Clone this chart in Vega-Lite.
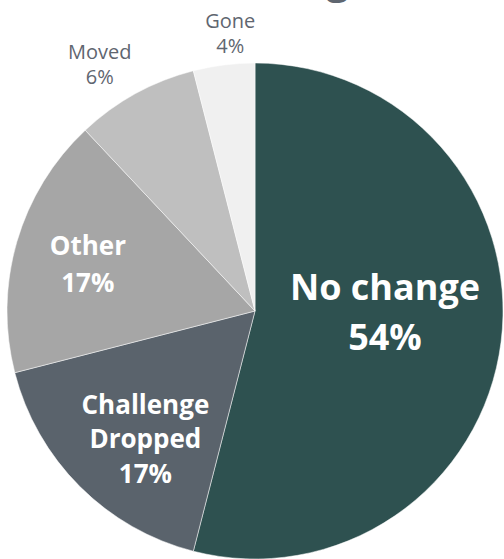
{
  "$schema": "https://vega.github.io/schema/vega-lite/v6.json",
  "width": 496,
  "height": 496,
  "autosize": "none",
  "padding": {"left": 7, "top": 63, "right": 1, "bottom": 0},
  "background": "white",
  "title": {"text": "Tracking", "font": "Open Sans", "fontSize": 40, "fontWeight": "bold", "color": "#5f6670", "anchor": "middle", "baseline": "alphabetic", "offset": 8, "dx": 8, "dy": 32},
  "data": {"values": [
    {"idx": 1, "category": "No change", "value": 54, "label": "No change\n54%"},
    {"idx": 2, "category": "Challenge Dropped", "value": 17, "label": "Challenge\nDropped\n17%"},
    {"idx": 3, "category": "Other", "value": 17, "label": "Other\n17%"},
    {"idx": 4, "category": "Moved", "value": 8, "label": "Moved\n6%"},
    {"idx": 5, "category": "Gone", "value": 4, "label": "Gone\n4%"}
  ]},
  "encoding": {
    "theta": {"field": "value", "type": "quantitative", "stack": true},
    "order": {"field": "idx", "type": "quantitative"},
    "detail": {"field": "category", "type": "nominal"}
  },
  "layer": [
    {
      "mark": {"type": "arc", "stroke": "#ffffff", "strokeWidth": 0.5},
      "encoding": {
        "color": {"field": "category", "type": "nominal", "legend": null,
          "scale": {"domain": ["No change", "Challenge Dropped", "Other", "Moved", "Gone"],
                    "range": ["#2e5150", "#5a636c", "#a6a6a6", "#bfbfbf", "#f0f0f0"]}}
      }
    },
    {
      "mark": {"type": "text", "font": "Open Sans", "fontWeight": "bold", "fontSize": 36, "fill": "#ffffff", "lineHeight": 50, "lineBreak": "\n", "radius": 130, "baseline": "middle", "align": "center", "dx": 1, "dy": -38},
      "encoding": {
        "text": {"condition": {"test": "datum.category === 'No change'", "field": "label", "type": "nominal"}, "value": ""}
      }
    },
    {
      "mark": {"type": "text", "font": "Open Sans", "fontWeight": "bold", "fontSize": 26, "fill": "#ffffff", "lineHeight": 36.5, "lineBreak": "\n", "radius": 172, "baseline": "middle", "align": "center", "dx": -2, "dy": -16},
      "encoding": {
        "text": {"condition": {"test": "datum.category === 'Other'", "field": "label", "type": "nominal"}, "value": ""}
      }
    },
    {
      "mark": {"type": "text", "font": "Open Sans", "fontWeight": "bold", "fontSize": 26, "fill": "#ffffff", "lineHeight": 34.5, "lineBreak": "\n", "radius": 172, "baseline": "middle", "align": "center", "dx": 12, "dy": -27},
      "encoding": {
        "text": {"condition": {"test": "datum.category === 'Challenge Dropped'", "field": "label", "type": "nominal"}, "value": ""}
      }
    },
    {
      "mark": {"type": "text", "font": "Open Sans", "fontSize": 20, "fill": "#5f6670", "lineHeight": 25, "lineBreak": "\n", "radius": 285, "baseline": "middle", "align": "center", "dx": -18, "dy": -8},
      "encoding": {
        "text": {"condition": {"test": "datum.category === 'Moved'", "field": "label", "type": "nominal"}, "value": ""}
      }
    },
    {
      "mark": {"type": "text", "font": "Open Sans", "fontSize": 20, "fill": "#5f6670", "lineHeight": 25, "lineBreak": "\n", "radius": 285, "baseline": "middle", "align": "center", "dx": 11, "dy": -6},
      "encoding": {
        "text": {"condition": {"test": "datum.category === 'Gone'", "field": "label", "type": "nominal"}, "value": ""}
      }
    }
  ]
}
